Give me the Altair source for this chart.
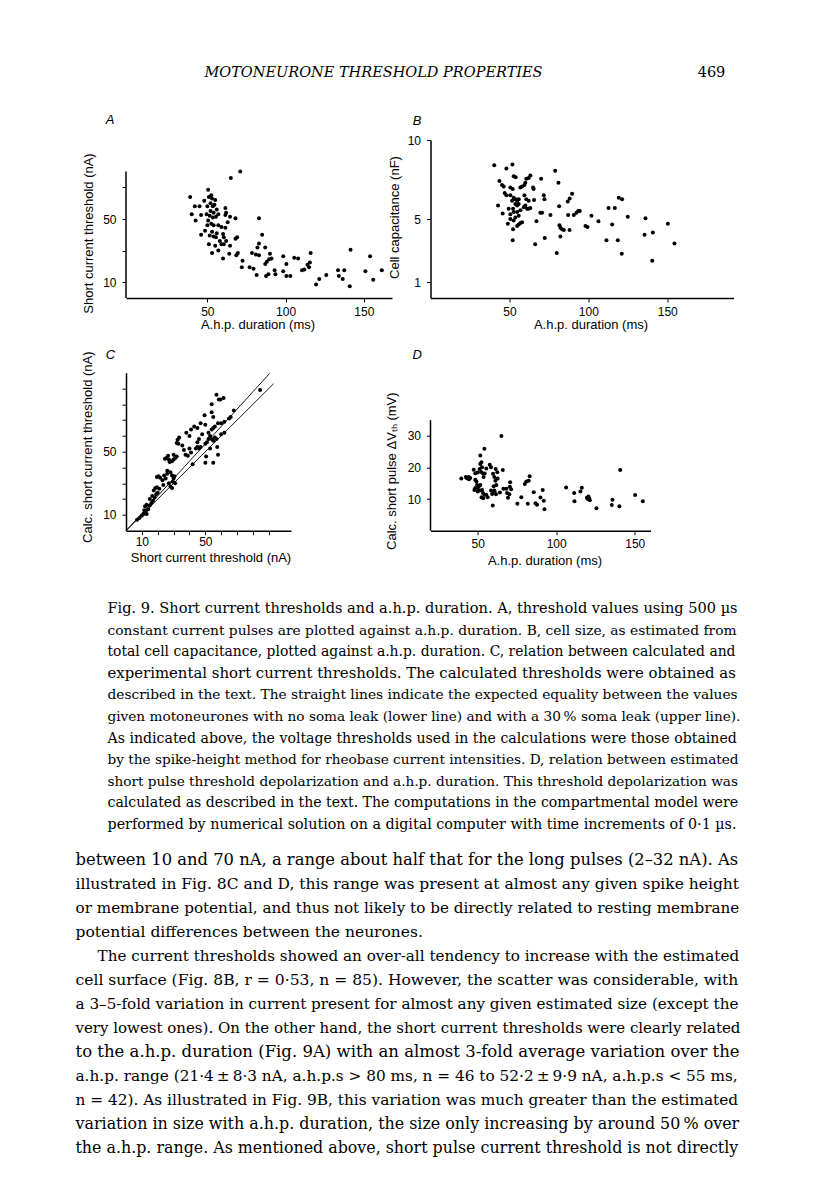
import altair as alt
import pandas as pd

# ---------------- data ----------------
# Panel A: a.h.p. duration (ms) vs short current threshold (nA)
A_pts = [(71, 80), (65, 76), (39, 64), (40, 53), (42.5, 49), (42, 58), (46, 52.5), (46, 40),
         (48.5, 42.5), (50.5, 68.5), (48, 61.5), (51, 64), (52.5, 65), (53, 63), (50, 58),
         (53.5, 58), (54.5, 59), (49.5, 53), (51.5, 52), (53.5, 51), (55.5, 51.5), (50.5, 49),
         (52.5, 47), (50, 46), (54, 46), (57, 46), (51.5, 39.5), (54, 39), (55.5, 38.5), (51, 34),
         (55, 33), (53, 28.5), (59, 45), (61.5, 44.5), (60, 40.5), (60.5, 38.5), (61.5, 57),
         (62, 54), (61.5, 52.5), (64.5, 51.5), (68, 50.5), (59, 34), (60.5, 34), (64.5, 33),
         (64, 28), (60, 25), (68, 37.5), (69, 38.5), (69.5, 28.5), (68.5, 27), (83, 50.5),
         (85, 40), (83, 34.5), (82, 32), (78.5, 28.5), (81, 27.5), (83, 27), (87, 32), (90, 28),
         (91, 25), (89.5, 24.5), (88, 23), (87, 21.5), (72.5, 23.5), (72, 19.5), (77, 19.5),
         (79.5, 18.5), (81.5, 14.5), (87.5, 14), (89, 15), (93, 17.5), (93.5, 15), (98.5, 26.5),
         (100.5, 21.5), (98.5, 17), (100.5, 14), (103, 14), (105.5, 25.5), (108, 25), (110.5, 17.5),
         (112, 18), (114, 21), (115, 19.5), (115.5, 22.5), (116, 28.5), (119.5, 8.5), (121.5, 12),
         (126, 14.5), (133.5, 17.5), (134, 14), (136.5, 12), (137.5, 17.5), (141, 7.5),
         (141.5, 30.5), (151, 17), (154, 26.5), (156, 11.5), (161.5, 17.5), (52, 55), (54, 54),
         (56, 56), (52, 60), (55, 62), (57, 53), (53, 42), (56, 41), (58, 36), (62, 36), (63, 48),
         (57, 30), (45, 58)]

# Panel B: a.h.p. duration (ms) vs cell capacitance (nF)
B_pts = [(40.4, 8.4), (48.1, 8.2), (51.9, 8.45), (43.7, 7.4), (45.3, 7.15), (46.4, 7.05),
         (42.8, 5.85), (45.7, 5.35), (49.0, 4.7), (52.3, 4.35), (52.1, 3.65), (52.7, 7.7),
         (54.0, 7.65), (50.6, 7.0), (52.1, 6.9), (47.0, 6.65), (48.1, 6.5), (50.6, 6.5),
         (52.7, 6.35), (53.8, 6.25), (51.7, 6.15), (54.9, 6.15), (55.9, 6.25), (49.5, 5.65),
         (52.3, 5.65), (53.8, 5.95), (54.9, 5.85), (55.9, 5.95), (50.6, 5.3), (52.7, 5.45),
         (54.9, 5.45), (53.8, 5.1), (55.9, 5.2), (57.0, 5.55), (50.6, 5.0), (52.7, 4.9),
         (54.9, 4.55), (55.9, 4.65), (57.0, 4.75), (58.0, 4.8), (56.9, 7.0), (58.0, 7.05),
         (59.5, 7.15), (60.7, 7.55), (62.2, 7.6), (60.1, 7.3), (63.3, 7.75), (59.5, 6.5),
         (60.7, 6.25), (62.2, 6.15), (60.1, 5.85), (61.2, 5.65), (59.1, 5.75), (62.2, 5.65),
         (63.3, 5.7), (65.0, 7.0), (65.4, 6.9), (65.6, 6.2), (67.1, 4.85), (69.6, 5.4),
         (70.7, 5.4), (70.1, 7.55), (71.8, 6.5), (72.2, 6.25), (72.4, 3.8), (66.3, 3.4),
         (76.0, 5.25), (79.0, 8.05), (81.1, 7.3), (81.5, 5.8), (80.0, 2.85), (81.7, 4.6),
         (82.3, 4.45), (83.4, 4.35), (84.5, 4.3), (82.3, 3.9), (88.1, 4.3), (87.0, 6.1),
         (88.2, 6.3), (89.7, 6.6), (87.2, 5.25), (90.8, 5.25), (92.5, 5.4), (93.6, 5.5),
         (94.6, 5.5), (98.2, 4.55), (99.5, 4.5), (102.0, 5.2), (106.4, 4.85), (111.5, 3.65),
         (112.8, 5.7), (116.8, 5.7), (115.1, 4.65), (118.7, 3.65), (119.3, 6.35), (121.4, 6.25),
         (121.2, 2.8), (125.0, 5.15), (136.2, 5.05), (135.6, 4.0), (140.9, 4.15), (140.5, 2.35),
         (150.4, 4.7), (154.6, 3.45)]

# Panel C: short current threshold (nA) vs calculated short current threshold (nA)
C_pts = [(7, 7), (8.5, 8), (10, 9.5), (11, 10.5), (12, 11), (12.5, 12), (13, 10.5), (11.5, 13),
         (14, 13.5), (12, 15.5), (15, 16), (13, 16.5), (16, 17.5), (17, 19), (15, 20), (16.5, 22),
         (18, 21), (19, 23), (20, 24), (17.5, 25.5), (18.5, 27), (19.5, 27.5), (21, 26.5),
         (19.5, 34), (20.5, 34.5), (21.5, 33.5), (23, 32), (25, 33), (24, 35), (26, 36),
         (23.5, 29), (27, 30), (28, 28), (29, 27), (29.5, 31), (31, 30), (30, 33), (29, 35),
         (28, 37), (26, 38), (30.5, 34.5), (24.5, 45.5), (25.5, 46), (26.5, 47.5), (27, 45),
         (27.5, 43.5), (28, 44), (29, 44), (30, 45), (31, 46), (30, 48), (32, 47), (32, 55.5),
         (33, 55), (32.5, 57.5), (33.5, 59), (35.5, 54), (36.5, 51), (37.5, 48), (39, 47.5),
         (41, 49.5), (40, 52), (42, 42), (44, 52), (45, 53), (46, 52), (47, 53), (45, 56),
         (46, 58), (40, 60), (38, 62), (41, 64), (43, 66), (45, 65), (47, 68), (49.5, 73),
         (50, 55), (51, 56), (52, 58), (53, 60), (54, 58), (55, 57), (56, 59), (53, 52), (57, 58),
         (57.5, 53), (50.5, 47), (50, 43), (55, 43), (52, 62), (54, 64), (56, 66), (58, 68),
         (60, 68), (62, 69), (65, 71), (66, 72), (68, 76), (57, 86), (58.5, 83), (59.5, 83),
         (61.5, 84), (54, 80), (55, 72), (54, 75), (50, 67), (48, 61), (55, 65), (60, 61),
         (62, 62), (58, 48), (84.5, 89)]

# Panel C equality lines: no soma leak (lower) and 30 % soma leak (upper)
line_name = ["lower", "lower", "upper", "upper"]
line_x = [0, 93, 0, 90.5]
line_y = [0, 93, 0, 99.5]

# Panel D: a.h.p. duration (ms) vs calculated short pulse dV_th (mV)
D_pts = [(39.6, 16.5), (42.5, 17), (43, 16.7), (43.8, 16.5), (44.5, 16.3), (44.3, 17),
         (45.3, 16.7), (47.5, 19.3), (48.5, 18.2), (50, 18.4), (51.3, 19.5), (51.7, 21.1),
         (52.4, 21.7), (51.7, 23.8), (54.3, 25.9), (52.8, 20.1), (52.2, 18.6), (53.4, 18.1),
         (53.8, 17), (54.5, 18.1), (55.5, 19.7), (48.5, 16.1), (49.2, 15.6), (49.6, 14.5),
         (50.7, 14), (50, 13.5), (51.7, 14.5), (48.5, 13.5), (47.9, 12.9), (50, 12.4),
         (51.3, 12.7), (52.8, 12.9), (53.4, 11.9), (54.3, 11.4), (55.5, 11.4), (56.4, 10.6),
         (52.5, 10.6), (53.5, 10.3), (57.7, 20.9), (58.5, 20.1), (59.8, 18), (60.6, 17),
         (61.3, 15.8), (61.9, 14.5), (59.2, 11.6), (58.5, 12.7), (60.6, 12.7), (62.7, 16.5),
         (60.2, 14.1), (60.8, 12.3), (61.7, 11.5), (64.2, 12.1), (59.6, 8), (65.1, 30),
         (66, 19.2), (66.4, 13.3), (68.3, 13.3), (68.7, 11.9), (70.5, 13.9), (71.3, 13.1),
         (70.7, 15.3), (70.2, 11.5), (69.3, 10.4), (61.5, 19.5), (62.5, 18.5), (75.3, 8.5),
         (77.8, 10.6), (80, 14.8), (81, 15.6), (82.5, 15.8), (83.1, 17.2), (81.9, 8.5),
         (85.7, 12.2), (86.8, 8.7), (87.8, 8.2), (90, 10.5), (91.4, 12.9), (92.1, 9.5),
         (92.5, 6.8), (106.3, 13.7), (111.4, 11.9), (111.6, 9.3), (115.4, 12.4), (116.3, 13.6),
         (119.5, 10.4), (120.2, 10), (121, 10.2), (121.4, 9.6), (120.5, 10.8), (125.6, 7.1),
         (135.8, 9.8), (135.4, 8.1), (140.7, 19.2), (140.2, 7.7), (150.2, 11.3), (155.1, 9.3)]

# axis ticks
A_xticks = [50, 100, 150]
A_yticks = [10, 20, 30, 40, 50, 60, 70, 80]
B_xticks = [50, 100, 150]
B_yticks = [1, 5, 10]
C_ticks = [10, 20, 30, 40, 50, 60, 70, 80, 90]
D_xticks = [50, 100, 150]
D_yticks = [10, 20, 30]
A_yaxis_top = 80
D_yaxis_top = 35

# ---------------- text ----------------
header = "MOTONEURONE THRESHOLD PROPERTIES"
page_no = "469"

caption_lines = [
    "Fig. 9. Short current thresholds and a.h.p. duration. A, threshold values using 500 \u00b5s",
    "constant current pulses are plotted against a.h.p. duration. B, cell size, as estimated from",
    "total cell capacitance, plotted against a.h.p. duration. C, relation between calculated and",
    "experimental short current thresholds. The calculated thresholds were obtained as",
    "described in the text. The straight lines indicate the expected equality between the values",
    "given motoneurones with no soma leak (lower line) and with a 30\u2009% soma leak (upper line).",
    "As indicated above, the voltage thresholds used in the calculations were those obtained",
    "by the spike-height method for rheobase current intensities. D, relation between estimated",
    "short pulse threshold depolarization and a.h.p. duration. This threshold depolarization was",
    "calculated as described in the text. The computations in the compartmental model were",
    "performed by numerical solution on a digital computer with time increments of 0\u00b71 \u00b5s.",
]

body_lines = [
    "between 10 and 70 nA, a range about half that for the long pulses (2\u201332 nA). As",
    "illustrated in Fig. 8C and D, this range was present at almost any given spike height",
    "or membrane potential, and thus not likely to be directly related to resting membrane",
    "potential differences between the neurones.",
    "The current thresholds showed an over-all tendency to increase with the estimated",
    "cell surface (Fig. 8B, r = 0\u00b753, n = 85). However, the scatter was considerable, with",
    "a 3\u20135-fold variation in current present for almost any given estimated size (except the",
    "very lowest ones). On the other hand, the short current thresholds were clearly related",
    "to the a.h.p. duration (Fig. 9A) with an almost 3-fold average variation over the",
    "a.h.p. range (21\u00b74\u2009\u00b1\u20098\u00b73 nA, a.h.p.s > 80 ms, n = 46 to 52\u00b72\u2009\u00b1\u20099\u00b79 nA, a.h.p.s < 55 ms,",
    "n = 42). As illustrated in Fig. 9B, this variation was much greater than the estimated",
    "variation in size with a.h.p. duration, the size only increasing by around 50\u2009% over",
    "the a.h.p. range. As mentioned above, short pulse current threshold is not directly",
]

# ---------------- typesetting (layout only) ----------------
SANS = "Liberation Sans"
SERIF = "DejaVu Serif"
TITLE_SIZE = 13
# per-line font sizes so that the lines fill the justified measure of the page
caption_sizes = [14.55, 13.8, 13.9, 14.9, 13.75, 13.65, 14.13, 13.65, 13.65, 14.1, 14.3]
body_sizes = [16.35, 15.5, 15.2, 15.5, 15.2, 15.55, 15.2, 15.0, 16.5, 15.3, 15.35, 15.9, 15.85]
body_indent = [0, 0, 0, 0, 22, 0, 0, 0, 0, 0, 0, 0, 0]

one = pd.DataFrame({"k": [0]})


def pts_df(p):
    return pd.DataFrame({"x": [a for a, b in p], "y": [b for a, b in p]})


def sparse_labels(keep):
    cond = " || ".join(f"datum.value == {k}" for k in keep)
    return f"({cond}) ? datum.label : ''"


def text(lines, x, y, size, font, style="normal", lh=None, align="left", baseline="alphabetic"):
    kw = dict(text=lines, font=font, fontSize=size, fontStyle=style, align=align,
              baseline=baseline, color="black")
    if lh is not None:
        kw["lineHeight"] = lh
    return alt.Chart(one).mark_text(**kw).encode(x=alt.value(x), y=alt.value(y))


def letter(t, x, y):
    return text(t, x, y, 13, SANS, style="italic", align="center", baseline="middle")


def dots(df, xe, ye):
    return alt.Chart(df).mark_circle(size=16, color="black", opacity=1).encode(x=xe, y=ye)


# ---------------- panel A ----------------
A_x = alt.X("x:Q", scale=alt.Scale(domain=[-2, 168], nice=False, zero=False),
            axis=alt.Axis(values=A_xticks, title="A.h.p. duration (ms)", titleX=131.5, titleY=26))
A_y = alt.Y("y:Q", scale=alt.Scale(domain=[0, 100], nice=False, zero=False),
            axis=alt.Axis(values=A_yticks, labelExpr=sparse_labels([10, 50]), domain=False,
                          title="Short current threshold (nA)", titleX=-37.5, titleY=93))
A_rule = alt.Chart(one).mark_rule(color="black", strokeWidth=1.5).encode(
    x=alt.value(0), y=alt.datum(0), y2=alt.datum(A_yaxis_top))
panelA = alt.layer(
    dots(pts_df(A_pts), A_x, A_y),
    A_rule,
    text(header, 247.5, -67, 14.5, SERIF, style="italic", align="center", baseline="middle"),
    text(page_no, 585.5, -67, 14.5, SERIF, align="center", baseline="middle"),
    letter("A", -16, -20),
).properties(width=266, height=158)

# ---------------- panel B ----------------
B_x = alt.X("x:Q", scale=alt.Scale(domain=[0, 192], nice=False, zero=False),
            axis=alt.Axis(values=B_xticks, title="A.h.p. duration (ms)", titleX=160, titleY=26))
B_y = alt.Y("y:Q", scale=alt.Scale(domain=[0, 10], nice=False, zero=False),
            axis=alt.Axis(values=B_yticks, title="Cell capacitance (nF)", titleX=-36, titleY=77))
panelB = alt.layer(
    dots(pts_df(B_pts), B_x, B_y),
    letter("B", -13.5, -19),
).properties(width=303, height=158)

# ---------------- panel C (also carries the caption and body text) ----------------
C_x = alt.X("x:Q", scale=alt.Scale(domain=[0, 104], nice=False, zero=False),
            axis=alt.Axis(values=C_ticks, labelExpr=sparse_labels([10, 50]), labelPadding=2,
                          title="Short current threshold (nA)", titleX=84.5, titleY=27))
C_y = alt.Y("y:Q", scale=alt.Scale(domain=[0, 100], nice=False, zero=False),
            axis=alt.Axis(values=C_ticks, labelExpr=sparse_labels([10, 50]),
                          title="Calc. short current threshold (nA)", titleX=-38.5, titleY=74))
lines_df = pd.DataFrame({"line": line_name, "x": line_x, "y": line_y})
C_lines = alt.Chart(lines_df).mark_line(color="black", strokeWidth=0.9).encode(
    x=C_x, y=C_y, detail="line:N")

caption_layers = [
    text(t, -18.5, 240.3 + 21.6 * i, s, SERIF)
    for i, (t, s) in enumerate(zip(caption_lines, caption_sizes))
]
body_layers = [
    text(t, -50.5 + ind, 492.5 + 24 * i, s, SERIF)
    for i, (t, s, ind) in enumerate(zip(body_lines, body_sizes, body_indent))
]

panelC = alt.layer(
    C_lines,
    dots(pts_df(C_pts), C_x, C_y),
    letter("C", -15.5, -17.7),
    *caption_layers,
    *body_layers,
).properties(width=165, height=158)

# ---------------- panel D ----------------
D_x = alt.X("x:Q", scale=alt.Scale(domain=[20, 160], nice=False, zero=False),
            axis=alt.Axis(values=D_xticks, title="A.h.p. duration (ms)", titleX=114, titleY=30))
D_y = alt.Y("y:Q", scale=alt.Scale(domain=[0, 50], nice=False, zero=False),
            axis=alt.Axis(values=D_yticks, domain=False,
                          title="Calc. short pulse \u0394V\u209c\u2095 (mV)", titleX=-39, titleY=98))
D_rule = alt.Chart(one).mark_rule(color="black", strokeWidth=1.5).encode(
    x=alt.value(0), y=alt.datum(0), y2=alt.datum(D_yaxis_top))
panelD = alt.layer(
    dots(pts_df(D_pts), D_x, D_y),
    D_rule,
    letter("D", -13.3, -17.7),
).properties(width=220, height=158)

chart = alt.concat(
    panelA, panelB, panelC, panelD,
    columns=2, spacing={"row": 74.7, "column": 38.5}, bounds="flush",
).properties(
    padding={"left": 67, "top": 57, "right": 5, "bottom": 5},
    background="white",
).configure_view(stroke=None).configure_axis(
    grid=False,
    labelFont=SANS, labelFontSize=12, labelColor="black", labelFlush=False, labelOverlap=False,
    titleFont=SANS, titleFontSize=TITLE_SIZE, titleFontWeight="normal", titleColor="black",
    titleAlign="center", titleBaseline="middle",
    domainColor="black", domainWidth=1.5, tickColor="black", tickWidth=1, tickSize=4,
).configure_axisX(labelPadding=4).configure_axisY(labelPadding=6, titleAngle=270)

chart.save("out.html", embed_options={"renderer": "svg", "actions": False})
